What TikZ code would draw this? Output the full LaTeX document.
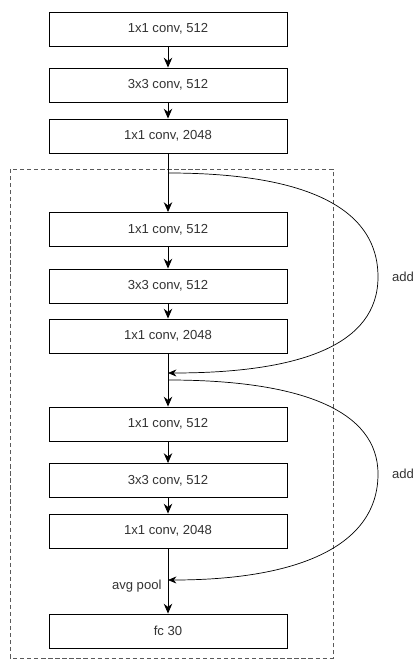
\documentclass[tikz,border=0pt]{standalone}
\usepackage{fontspec}
\setmainfont{Liberation Sans}
\usepackage{xcolor}
\usepackage{tikz}
\usetikzlibrary{arrows.meta, positioning, calc}
\definecolor{mytext}{RGB}{51,51,51}
\definecolor{mydash}{RGB}{90,90,90}
\tikzset{
  layer/.style={rectangle, draw=black, fill=white,
    minimum width=5.95cm, minimum height=0.85cm,
    font=\fontsize{9.3}{11}\selectfont, text=mytext, line width=0.6pt},
  lbl/.style={font=\fontsize{9.3}{11}\selectfont, text=mytext},
  arrow/.style={-{Stealth[length=7pt, width=6pt]}, line width=0.6pt},
  skip/.style={-{Stealth[length=6pt, width=5pt]}, line width=0.5pt}
}
\begin{document}
\begin{tikzpicture}[x=0.025cm, y=-0.025cm]
  \useasboundingbox (0,0) rectangle (415,662);

  % frozen part
  \node[layer] (c1) at (168, 29) {1x1 conv, 512};
  \node[layer] (c2) at (168, 85) {3x3 conv, 512};
  \node[layer] (c3) at (168, 136) {1x1 conv, 2048};

  % trainable part
  \draw[dashed, dash pattern=on 3pt off 2pt, draw=mydash, line width=0.4pt] (10, 169) rectangle (333, 658);

  % block A
  \node[layer] (a1) at (168, 229.5) {1x1 conv, 512};
  \node[layer] (a2) at (168, 286) {3x3 conv, 512};
  \node[layer] (a3) at (168, 336) {1x1 conv, 2048};

  % block B
  \node[layer] (b1) at (168, 424) {1x1 conv, 512};
  \node[layer] (b2) at (168, 480.5) {3x3 conv, 512};
  \node[layer] (b3) at (168, 531) {1x1 conv, 2048};

  % classifier
  \node[layer] (fc) at (168, 631) {fc 30};

  % junctions
  \coordinate (s1) at (168, 173);
  \coordinate (e1) at (168, 373);
  \coordinate (s2) at (168, 380);
  \coordinate (e2) at (168, 580);

  % Connections
  \draw[arrow] (c1) -- (c2);
  \draw[arrow] (c2) -- (c3);
  \draw[arrow] (c3) -- (a1);
  \draw[arrow] (a1) -- (a2);
  \draw[arrow] (a2) -- (a3);
  \draw[arrow] (a3) -- (b1);
  \draw[arrow] (b1) -- (b2);
  \draw[arrow] (b2) -- (b3);
  \draw[arrow] (b3) -- node[lbl, left=1pt, pos=0.58] (pool) {avg pool} (fc);

  % shortcuts
  \draw[skip] (s1) .. controls (300, 173) and (378, 205) .. (378, 277)
    .. controls (378, 345) and (300, 373) .. (e1);
  \draw[skip] (s2) .. controls (300, 380) and (378, 410) .. (378, 474)
    .. controls (378, 545) and (300, 580) .. (e2);
  \node[lbl] (add1) at (403, 277) {add};
  \node[lbl] (add2) at (403, 474) {add};
\end{tikzpicture}
\end{document}
